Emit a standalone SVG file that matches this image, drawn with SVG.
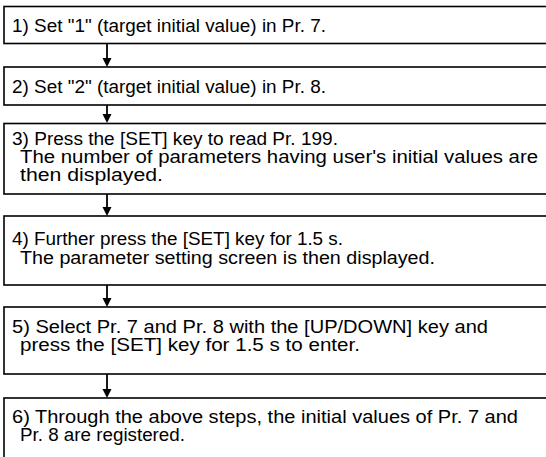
<svg xmlns="http://www.w3.org/2000/svg" width="546" height="457" viewBox="0 0 546 457">
<defs>
<style>
.box{fill:#fff;stroke:#000;stroke-width:1.6}
.t{font-family:"Liberation Sans",Arial,sans-serif;font-size:17.5px;fill:#000}
.c{stroke:#000;stroke-width:1.8;fill:none}
.h{fill:#000;stroke:none}
</style>
</defs>
<rect width="546" height="457" fill="#fff"/>
<g id="n1"><rect class="box" x="4" y="6.5" width="560" height="37"/>
<text class="t" x="12" y="32" textLength="314" lengthAdjust="spacingAndGlyphs">1) Set "1" (target initial value) in Pr. 7.</text></g>
<g id="n2"><rect class="box" x="4" y="67" width="560" height="38"/>
<text class="t" x="12" y="93" textLength="314" lengthAdjust="spacingAndGlyphs">2) Set "2" (target initial value) in Pr. 8.</text></g>
<g id="n3"><rect class="box" x="4" y="123.5" width="560" height="70.5"/>
<text class="t" x="12" y="145" textLength="326" lengthAdjust="spacingAndGlyphs">3) Press the [SET] key to read Pr. 199.</text>
<text class="t" x="20" y="163" textLength="518" lengthAdjust="spacingAndGlyphs">The number of parameters having user's initial values are</text>
<text class="t" x="20" y="181" textLength="143" lengthAdjust="spacingAndGlyphs">then displayed.</text></g>
<g id="n4"><rect class="box" x="4" y="216" width="560" height="69"/>
<text class="t" x="12" y="245" textLength="331" lengthAdjust="spacingAndGlyphs">4) Further press the [SET] key for 1.5 s.</text>
<text class="t" x="20" y="264" textLength="415" lengthAdjust="spacingAndGlyphs">The parameter setting screen is then displayed.</text></g>
<g id="n5"><rect class="box" x="4" y="307" width="560" height="67"/>
<text class="t" x="12" y="333" textLength="476" lengthAdjust="spacingAndGlyphs">5) Select Pr. 7 and Pr. 8 with the [UP/DOWN] key and</text>
<text class="t" x="20" y="351" textLength="340" lengthAdjust="spacingAndGlyphs">press the [SET] key for 1.5 s to enter.</text></g>
<g id="n6"><rect class="box" x="4" y="398" width="560" height="80"/>
<text class="t" x="12" y="423" textLength="506" lengthAdjust="spacingAndGlyphs">6) Through the above steps, the initial values of Pr. 7 and</text>
<text class="t" x="20" y="441" textLength="165" lengthAdjust="spacingAndGlyphs">Pr. 8 are registered.</text></g>
<g id="connectors">
<line class="c" x1="107" y1="44" x2="107" y2="58"/>
<path class="h" d="M102.5,58 L111.5,58 L107,67 Z"/>
<line class="c" x1="107" y1="105" x2="107" y2="114"/>
<path class="h" d="M102.5,114 L111.5,114 L107,123 Z"/>
<line class="c" x1="107" y1="194" x2="107" y2="207"/>
<path class="h" d="M102.5,207 L111.5,207 L107,216 Z"/>
<line class="c" x1="107" y1="285" x2="107" y2="298"/>
<path class="h" d="M102.5,298 L111.5,298 L107,307 Z"/>
<line class="c" x1="107" y1="374" x2="107" y2="389"/>
<path class="h" d="M102.5,389 L111.5,389 L107,398 Z"/>
</g>
</svg>
